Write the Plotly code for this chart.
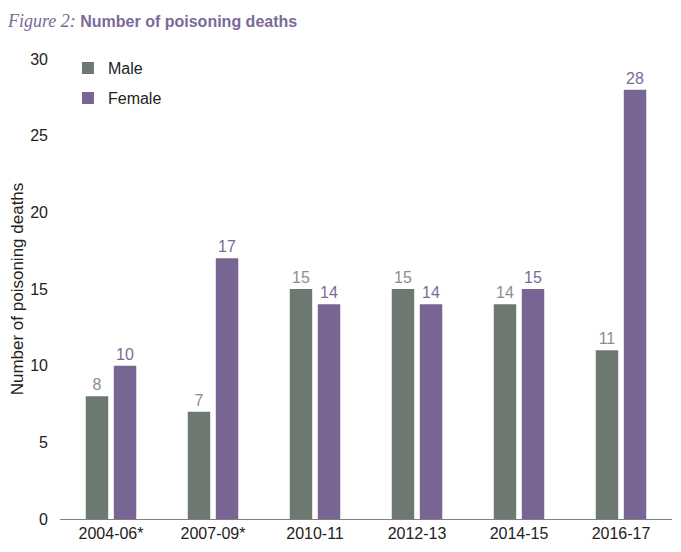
import plotly.graph_objects as go

# Dados
periodos = ["2004-06*", "2007-09*", "2010-11", "2012-13", "2014-15", "2016-17"]
masculino = [8, 7, 15, 15, 14, 11]
feminino = [10, 17, 14, 14, 15, 28]

cor_masc = "#6C7870"
cor_fem = "#796593"
cor_titulo = "#7B6A99"

fig = go.Figure()

fig.add_trace(go.Bar(
    x=periodos, y=masculino, name="Male",
    marker=dict(color=cor_masc, line=dict(width=0)),
    text=masculino, textposition="outside", cliponaxis=False,
    textfont=dict(color="#8C8C8C", size=16, family="Liberation Sans"),
    legendgroup="m"
))
fig.add_trace(go.Bar(
    x=periodos, y=feminino, name="Female",
    marker=dict(color=cor_fem, line=dict(width=0)),
    text=feminino, textposition="outside", cliponaxis=False,
    textfont=dict(color=cor_titulo, size=16, family="Liberation Sans"),
    legendgroup="f"
))

# a página tem margem de 8px no body, por isso a figura é menor
fig.update_layout(
    width=665, height=536,
    margin=dict(l=52, r=1, t=51, b=25, autoexpand=False),
    paper_bgcolor="white", plot_bgcolor="white",
    barmode="group", bargap=0.45, bargroupgap=0.2,
    font=dict(family="Liberation Sans", size=16, color="#222222"),
    title=dict(
        text="<span style='font-family:Liberation Serif;font-style:italic;font-weight:normal;font-size:18px'>Figure 2:</span>"
             " <b>Number of poisoning deaths</b>",
        font=dict(family="Liberation Sans", size=16, color=cor_titulo),
        x=0, xanchor="left", y=0.985, yanchor="top"
    ),
    legend=dict(
        x=0.013, xanchor="left", y=1.017, yanchor="top",
        font=dict(size=16, color="#222222"),
        traceorder="grouped", tracegroupgap=6,
        bgcolor="rgba(0,0,0,0)"
    ),
    xaxis=dict(
        type="category", automargin=False,
        showline=True, linecolor="#808080", linewidth=1,
        ticks="", showgrid=False,
        tickfont=dict(size=16, color="#222222")
    ),
    yaxis=dict(
        range=[0, 30], dtick=5, showgrid=False, zeroline=False,
        showline=False, ticks="", automargin=False,
        tickfont=dict(size=16, color="#222222"),
        ticklabelstandoff=11,
        title=dict(text="Number of poisoning deaths", font=dict(size=17), standoff=9)
    )
)

fig.write_html("out.html")
